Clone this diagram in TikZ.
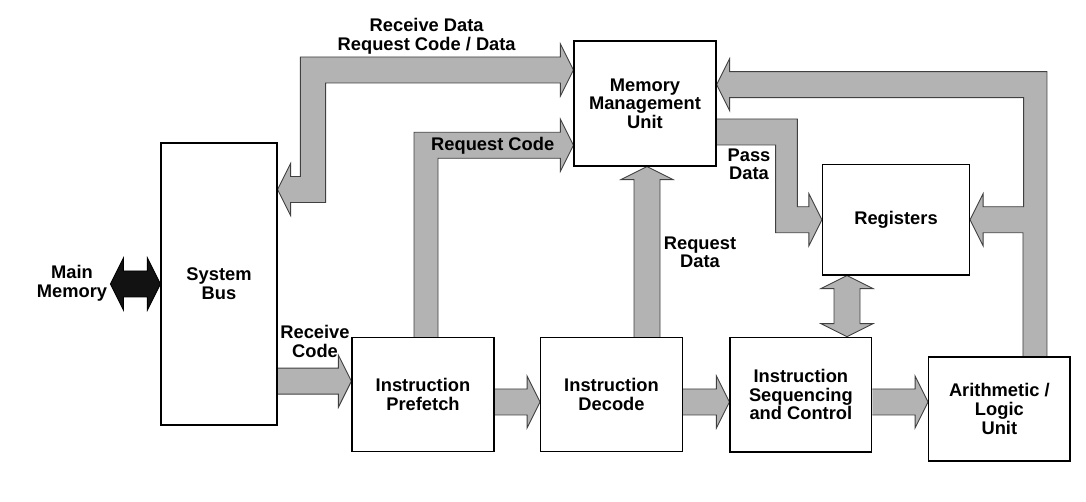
\documentclass[tikz,border=0pt]{standalone}
\usepackage{fontspec}
\setmainfont{Liberation Sans}
\usetikzlibrary{calc,backgrounds}
\definecolor{pipegray}{RGB}{179,179,179}
\definecolor{pipeedge}{RGB}{64,64,64}
\tikzset{
  unit/.style={draw, fill=white, line width=1.2pt, align=center, inner sep=2pt,
    font=\bfseries\fontsize{18.3}{18.6}\selectfont},
  tag/.style={align=center, inner sep=1pt, font=\bfseries\fontsize{18.3}{18.6}\selectfont},
  fat/.style={fill=pipegray, draw=pipeedge, line width=0.9pt, line join=miter},
}
% wide right-pointing arrow from #1 to the tip #2
\newcommand{\fatright}[2]{%
  \filldraw[fat] ($(#1)+(0,13)$) -- ($(#2)+(-13,13)$) -- ++(0,13) -- (#2)
    -- ++(-13,-26) -- ++(0,13) -- ($(#1)+(0,-13)$);}

\begin{document}
\begin{tikzpicture}[x=1pt,y=1pt]
  \useasboundingbox (0,0) rectangle (1086,502);

  % blocks
  \node[unit, minimum width=116pt, minimum height=282pt] (sysbus) at (219,218) {System\\Bus};
  \node[unit, minimum width=142pt, minimum height=125pt] (mmu) at (645,398.5) {Memory\\Management\\Unit};
  \node[unit, minimum width=147pt, minimum height=110.5pt] (reg) at (896,282.25) {Registers};
  \node[unit, minimum width=142pt, minimum height=114pt] (pref) at (423,107.3) {Instruction\\Prefetch};
  \node[unit, minimum width=141.6pt, minimum height=114pt] (dec) at (611.5,107.3) {Instruction\\Decode};
  \node[unit, minimum width=141.7pt, minimum height=114.7pt] (seq) at (800.85,107.35) {Instruction\\Sequencing\\and Control};
  \node[unit, minimum width=141.3pt, minimum height=104pt] (alu) at (999.35,93) {Arithmetic /\\Logic\\Unit};

  % labels
  \node[tag] (mainmem) at (72,218.5) {Main\\Memory};
  \node[tag] (lblrecdata) at (426.7,465.5) {Receive Data\\Request Code / Data};
  \node[tag] (lblreqcode) at (492.7,356) {Request Code};
  \node[tag] (lblpass) at (749,337.5) {Pass\\Data};
  \node[tag] (lblreqdata) at (700,249.5) {Request\\Data};
  \node[tag] (lblreccode) at (315,160.5) {Receive\\Code};

  % arrow ends
  \coordinate (ltip) at ($(sysbus.east)+(0,94.5)$);
  \coordinate (rtip) at ($(mmu.west)+(0,33.5)$);
  \coordinate (rctip) at ($(mmu.west)+(0,-41.8)$);
  \coordinate (rdtip) at ($(mmu.south)+(2,0)$);
  \coordinate (mtip) at ($(mmu.east)+(0,18.8)$);
  \coordinate (rstop) at ($(reg.south)+(-49,0)$);
  \coordinate (rc) at ($(pref.west)+(0,13.5)$);
  \coordinate (row) at ($(pref.west)+(0,-7.3)$);

  \begin{pgfonlayer}{background}
    % main memory <-> system bus
    \filldraw[fill=black!93, draw=black, line width=0.9pt] ($(sysbus.west)+(-50,0)$) -- ++(13,26) -- ++(0,-13)
      -- ($(sysbus.west)+(-13,13)$) -- ++(0,13) -- (sysbus.west) -- ++(-13,-26) -- ++(0,13)
      -- ($(sysbus.west)+(-37,-13)$) -- ++(0,-13) -- cycle;
    % receive data / request code / data
    \filldraw[fat] (ltip) -- ++(13,26) -- ++(0,-13) -| ($(rtip)+(-273,13)$) -- ($(rtip)+(-13,13)$)
      -- ++(0,13) -- (rtip) -- ++(-13,-26) -- ++(0,13) -| ($(ltip)+(48,-13)$) -- ++(-35,0)
      -- ++(0,-13) -- cycle;
    % request code
    \filldraw[fat] ($(pref.north)+(-9,0)$) |- ($(rctip)+(-13,13)$) -- ++(0,13) -- (rctip)
      -- ++(-13,-26) -- ++(0,13) -| ($(pref.north)+(15,0)$);
    % request data
    \filldraw[fat] ($(dec.north -| rdtip)+(-13,0)$) -- ($(rdtip)+(-13,-13)$) -- ++(-13,0) -- (rdtip)
      -- ++(26,-13) -- ++(-13,0) -- ($(dec.north -| rdtip)+(13,0)$);
    % pass data
    \filldraw[fat] ($(mmu.east)+(0,-15.5)$) -| ($(reg.west)+(-24.5,13)$) -- ($(reg.west)+(-13,13)$)
      -- ++(0,13) -- (reg.west) -- ++(-13,-26) -- ++(0,13) -| ($(mmu.east)+(59,-41.5)$)
      -- ($(mmu.east)+(0,-41.5)$);
    % alu results back to registers and mmu
    \filldraw[fat] ($(alu.north)+(23.6,0)$) |- ($(reg.east)+(13,-13)$) -- ++(0,-13) -- (reg.east)
      -- ++(13,26) -- ++(0,-13) -| ($(mtip)+(307,-13)$) -- ($(mtip)+(13,-13)$) -- ++(0,-13)
      -- (mtip) -- ++(13,26) -- ++(0,-13) -| ($(alu.north)+(47.6,0)$);
    % registers <-> sequencing
    \filldraw[fat] (rstop) -- ++(26,-13) -- ++(-13,0) -- ($(seq.north -| rstop)+(13,13)$) -- ++(13,0)
      -- (seq.north -| rstop) -- ++(-26,13) -- ++(13,0) -- ($(rstop)+(-13,-13)$) -- ++(-13,0) -- cycle;
    % pipeline
    \fatright{sysbus.east |- rc}{rc}
    \fatright{pref.east |- row}{dec.west |- row}
    \fatright{dec.east |- row}{seq.west |- row}
    \fatright{seq.east |- row}{alu.west |- row}
  \end{pgfonlayer}
\end{tikzpicture}
\end{document}
